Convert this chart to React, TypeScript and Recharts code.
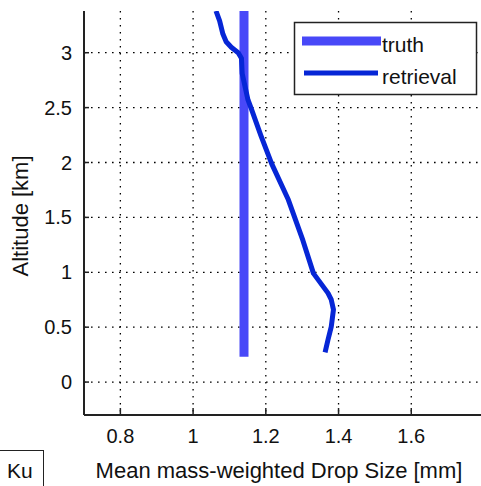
import { LineChart, Line, XAxis, YAxis, CartesianGrid, Legend } from 'recharts';

const FONT = '"Liberation Sans", Arial, Helvetica, sans-serif';

// tick labels
const xTicks = [0.8, 1, 1.2, 1.4, 1.6];
const yTicks = [0, 0.5, 1, 1.5, 2, 2.5, 3];

// truth profile (constant drop size)
const truthSize = [1.14, 1.14];
const truthAlt = [0.23, 3.38];

// retrieved profile from bottom to top
const retrievalAlt = [0.27, 0.385, 0.505, 0.66, 0.75, 0.81, 0.99, 1.29, 1.66, 1.99, 2.25, 2.5, 2.57, 2.81, 2.95, 3.0, 3.05, 3.1, 3.17, 3.29, 3.38];
const retrievalSize = [1.363, 1.371, 1.38, 1.386, 1.38, 1.371, 1.331, 1.302, 1.262, 1.216, 1.186, 1.159, 1.151, 1.135, 1.133, 1.124, 1.105, 1.091, 1.082, 1.073, 1.063];

const seriesNames = ['truth', 'retrieval'];

const truthData = truthAlt.map((alt, i) => ({ x: truthSize[i], alt }));
const retrievalData = retrievalAlt.map((alt, i) => ({ x: retrievalSize[i], alt }));

const TRUTH_COLOR = '#4848f8';
const RETRIEVAL_COLOR = '#0626d6';
const AXIS_COLOR = '#222';
const TEXT_COLOR = '#111';

const BottomTick = (props: any) => {
  const { x, y, payload } = props;
  return (
    <g>
      <line x1={x} y1={y} x2={x} y2={y - 7} stroke={AXIS_COLOR} strokeWidth={1.5} />
      <text x={x} y={y + 28} textAnchor="middle" fontSize={20} fontFamily={FONT} fill={TEXT_COLOR}>
        {payload.value}
      </text>
    </g>
  );
};

const TopTick = (props: any) => {
  const { x, y } = props;
  return <line x1={x} y1={y} x2={x} y2={y + 5} stroke={AXIS_COLOR} strokeWidth={1.5} />;
};

const LeftTick = (props: any) => {
  const { x, y, payload } = props;
  return (
    <g>
      <line x1={x} y1={y} x2={x + 5} y2={y} stroke={AXIS_COLOR} strokeWidth={1.5} />
      <text x={x - 12} y={y + 7} textAnchor="end" fontSize={20} fontFamily={FONT} fill={TEXT_COLOR}>
        {payload.value}
      </text>
    </g>
  );
};

const RightTick = (props: any) => {
  const { x, y } = props;
  return <line x1={x} y1={y} x2={x - 5} y2={y} stroke={AXIS_COLOR} strokeWidth={1.5} />;
};

const widths: Record<string, number> = { truth: 9, retrieval: 5 };

function LegendBox({ payload }: { payload?: Array<{ value: string; color: string }> }) {
  const items = [...(payload || [])].sort(
    (a, b) => seriesNames.indexOf(a.value) - seriesNames.indexOf(b.value)
  );
  return (
    <svg width={184} height={74} style={{ position: 'absolute', left: 0, top: 0, overflow: 'visible' }}>
      <rect x={0.5} y={0.5} width={182} height={72} fill="#fff" stroke={AXIS_COLOR} strokeWidth={1.5} />
      {items.map((item, i) => (
        <g key={item.value}>
          <line
            x1={i === 0 ? 8 : 10}
            x2={i === 0 ? 87 : 84}
            y1={19 + i * 32}
            y2={19 + i * 32}
            stroke={item.color}
            strokeWidth={widths[item.value] || 5}
          />
          <text x={88} y={29.5 + i * 32} fontSize={21} fontFamily={FONT} fill={TEXT_COLOR}>
            {item.value}
          </text>
        </g>
      ))}
    </svg>
  );
}

export default function App() {
  return (
    <div
      style={{
        position: 'absolute',
        left: 0,
        top: 0,
        width: 481,
        height: 486,
        overflow: 'hidden',
        background: '#fff',
      }}
    >
      <LineChart width={484} height={486} margin={{ top: 11, right: 0, left: 0, bottom: 0 }}>
        <CartesianGrid
          stroke="#000"
          strokeWidth={1.3}
          strokeDasharray="1.6 5.4"
          horizontalValues={yTicks}
          verticalValues={xTicks}
        />
        <XAxis
          dataKey="x"
          type="number"
          domain={[0.7, 1.8]}
          ticks={xTicks}
          height={71}
          tickSize={0}
          tickMargin={0}
          tickLine={false}
          tick={<BottomTick />}
          axisLine={{ stroke: AXIS_COLOR, strokeWidth: 2 }}
          allowDataOverflow
          label={{
            content: () => (
              <text x={279} y={478} textAnchor="middle" fontSize={22} fontFamily={FONT} fill={TEXT_COLOR}>
                Mean mass-weighted Drop Size [mm]
              </text>
            ),
          }}
        />
        <XAxis
          xAxisId="top"
          orientation="top"
          type="number"
          domain={[0.7, 1.8]}
          ticks={xTicks}
          height={0}
          tickSize={0}
          tickMargin={0}
          tickLine={false}
          tick={<TopTick />}
          axisLine={{ stroke: AXIS_COLOR, strokeWidth: 2 }}
          allowDataOverflow
        />
        <YAxis
          dataKey="alt"
          type="number"
          domain={[-0.3, 3.38]}
          ticks={yTicks}
          width={84}
          tickSize={0}
          tickMargin={0}
          tickLine={false}
          tick={<LeftTick />}
          axisLine={{ stroke: AXIS_COLOR, strokeWidth: 2 }}
          allowDataOverflow
          label={{
            content: () => (
              <text
                x={28}
                y={216}
                transform="rotate(-90 28 216)"
                textAnchor="middle"
                fontSize={22}
                fontFamily={FONT}
                fill={TEXT_COLOR}
              >
                Altitude [km]
              </text>
            ),
          }}
        />
        <YAxis
          yAxisId="right"
          orientation="right"
          type="number"
          domain={[-0.3, 3.38]}
          ticks={yTicks}
          width={0}
          tickSize={0}
          tickMargin={0}
          tickLine={false}
          tick={<RightTick />}
          axisLine={{ stroke: AXIS_COLOR, strokeWidth: 2 }}
          allowDataOverflow
        />
        <Line
          data={truthData}
          dataKey="alt"
          name="truth"
          stroke={TRUTH_COLOR}
          strokeWidth={9}
          dot={false}
          activeDot={false}
          isAnimationActive={false}
        />
        <Line
          data={retrievalData}
          dataKey="alt"
          name="retrieval"
          stroke={RETRIEVAL_COLOR}
          strokeWidth={5}
          strokeLinejoin="round"
          dot={false}
          activeDot={false}
          isAnimationActive={false}
        />
        <Legend
          content={<LegendBox />}
          wrapperStyle={{ position: 'absolute', left: 294, top: 22, bottom: 'auto', width: 0, height: 0 }}
        />
      </LineChart>
      <div
        style={{
          position: 'absolute',
          left: -2,
          top: 450,
          width: 46,
          height: 50,
          border: '1.5px solid #222',
          boxSizing: 'border-box',
          fontFamily: FONT,
          fontSize: 21,
          color: TEXT_COLOR,
        }}
      >
        <span style={{ position: 'absolute', left: 8, top: 8, lineHeight: '24px' }}>Ku</span>
      </div>
    </div>
  );
}
